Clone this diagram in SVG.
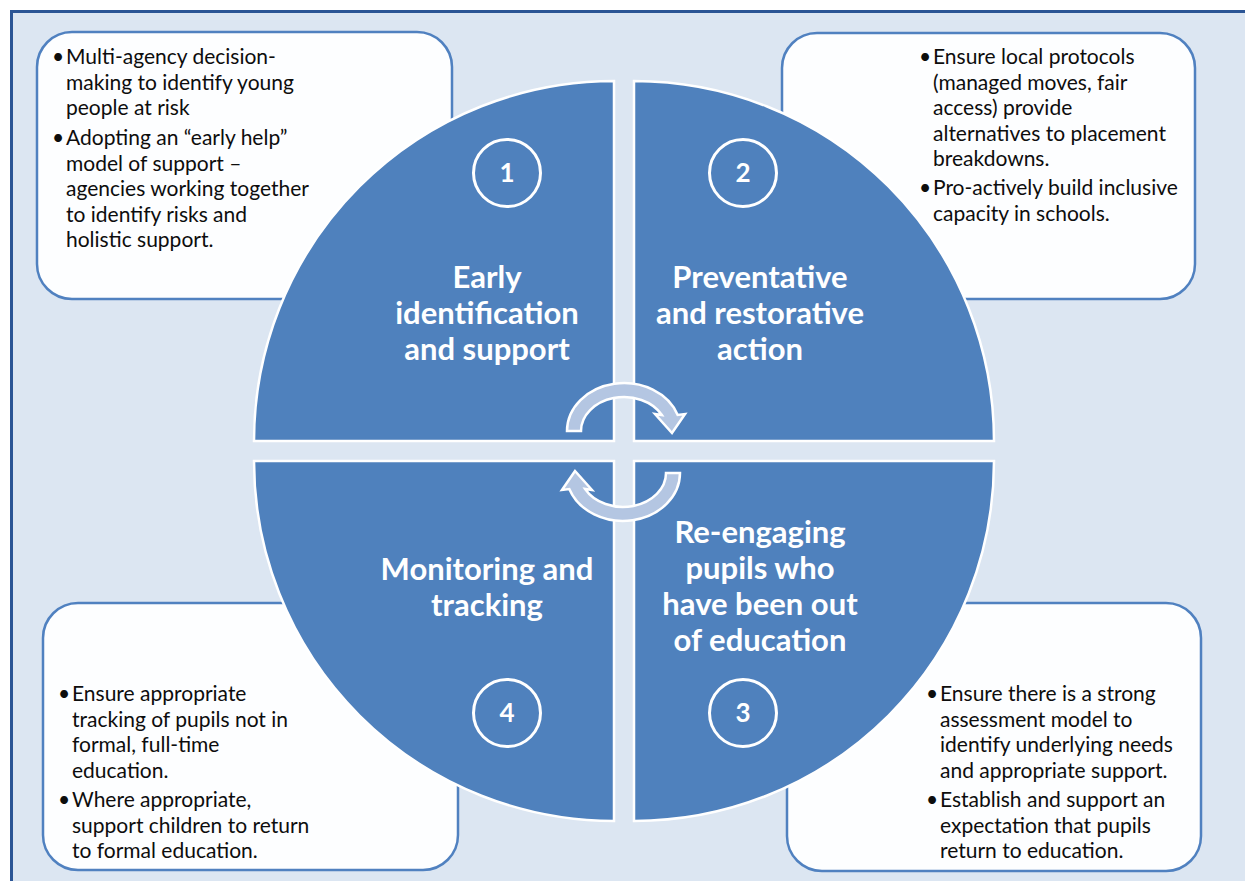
<svg xmlns="http://www.w3.org/2000/svg" width="1245" height="881" viewBox="0 0 1245 881">
<style>
.box{fill:#fdfeff;stroke:#5081c0;stroke-width:2.5}
.q{fill:#4f81bd;stroke:#ffffff;stroke-width:2.5}
.num{fill:none;stroke:#ffffff;stroke-width:3}
.numt{font-family:Lato,"Liberation Sans",sans-serif;font-size:26px;font-weight:bold;fill:#ffffff;text-anchor:middle}
.title{font-family:Lato,"Liberation Sans",sans-serif;font-size:31px;font-weight:bold;fill:#ffffff;text-anchor:middle}
.body{font-family:Lato,"Liberation Sans",sans-serif;font-size:21px;fill:#0d0d0d}
.arr{fill:#b4c6e2;stroke:#ffffff;stroke-width:2.5}
</style>
<rect x="0" y="0" width="1245" height="881" fill="#ffffff"/>
<rect x="11.5" y="11.5" width="1240" height="875" fill="#dce6f2" stroke="#2b5595" stroke-width="3"/>

<g id="box1">
<rect class="box" x="37" y="32" width="415" height="267" rx="35"/>
<text class="body"><tspan x="52" y="64">•</tspan><tspan x="66" y="64">Multi-agency decision-</tspan><tspan x="66" y="89.5">making to identify young</tspan><tspan x="66" y="115">people at risk</tspan><tspan x="52" y="145">•</tspan><tspan x="66" y="145">Adopting an “early help”</tspan><tspan x="66" y="170.5">model of support –</tspan><tspan x="66" y="196">agencies working together</tspan><tspan x="66" y="221.5">to identify risks and</tspan><tspan x="66" y="247">holistic support.</tspan></text>
</g>
<g id="box2">
<rect class="box" x="782" y="33" width="413" height="266" rx="35"/>
<text class="body"><tspan x="919" y="64">•</tspan><tspan x="933" y="64">Ensure local protocols</tspan><tspan x="933" y="89.5">(managed moves, fair</tspan><tspan x="933" y="115">access) provide</tspan><tspan x="933" y="140.5">alternatives to placement</tspan><tspan x="933" y="166">breakdowns.</tspan><tspan x="919" y="195">•</tspan><tspan x="933" y="195">Pro-actively build inclusive</tspan><tspan x="933" y="220.5">capacity in schools.</tspan></text>
</g>
<g id="box4">
<rect class="box" x="43" y="603" width="415" height="267" rx="35"/>
<text class="body"><tspan x="58" y="701">•</tspan><tspan x="72" y="701">Ensure appropriate</tspan><tspan x="72" y="726.5">tracking of pupils not in</tspan><tspan x="72" y="752">formal, full-time</tspan><tspan x="72" y="777.5">education.</tspan><tspan x="58" y="807">•</tspan><tspan x="72" y="807">Where appropriate,</tspan><tspan x="72" y="832.5">support children to return</tspan><tspan x="72" y="858">to formal education.</tspan></text>
</g>
<g id="box3">
<rect class="box" x="787" y="603" width="414" height="268" rx="35"/>
<text class="body"><tspan x="926" y="701">•</tspan><tspan x="940" y="701">Ensure there is a strong</tspan><tspan x="940" y="726.5">assessment model to</tspan><tspan x="940" y="752">identify underlying needs</tspan><tspan x="940" y="777.5">and appropriate support.</tspan><tspan x="926" y="807">•</tspan><tspan x="940" y="807">Establish and support an</tspan><tspan x="940" y="832.5">expectation that pupils</tspan><tspan x="940" y="858">return to education.</tspan></text>
</g>

<g id="q1">
<path class="q" d="M614,441 L254,441 A360,360 0 0 1 614,81 Z"/>
<circle class="num" cx="507" cy="173" r="33.5"/>
<text class="numt" x="507" y="182">1</text>
<text class="title"><tspan x="487" y="288">Early</tspan><tspan x="487" y="324">identification</tspan><tspan x="487" y="360">and support</tspan></text>
</g>
<g id="q2">
<path class="q" d="M634,441 L634,81 A360,360 0 0 1 994,441 Z"/>
<circle class="num" cx="743" cy="173" r="33.5"/>
<text class="numt" x="743" y="182">2</text>
<text class="title"><tspan x="760" y="288">Preventative</tspan><tspan x="760" y="324">and restorative</tspan><tspan x="760" y="360">action</tspan></text>
</g>
<g id="q4">
<path class="q" d="M614,461 L254,461 A360,360 0 0 0 614,821 Z"/>
<circle class="num" cx="507" cy="713" r="33.5"/>
<text class="numt" x="507" y="722">4</text>
<text class="title"><tspan x="487" y="580">Monitoring and</tspan><tspan x="487" y="616">tracking</tspan></text>
</g>
<g id="q3">
<path class="q" d="M634,461 L994,461 A360,360 0 0 1 634,821 Z"/>
<circle class="num" cx="743" cy="713" r="33.5"/>
<text class="numt" x="743" y="722">3</text>
<text class="title"><tspan x="760" y="543">Re-engaging</tspan><tspan x="760" y="579">pupils who</tspan><tspan x="760" y="615">have been out</tspan><tspan x="760" y="651">of education</tspan></text>
</g>

<g id="connectors">
<path class="arr" d="M567,431 A57,48 0 0 1 677.7,415 L685,414 L672,433 L655,414 L661.9,415 A43,34 0 0 0 581,431 Z"/>
<path class="arr" transform="rotate(180 623.5 452)" d="M567,431 A57,48 0 0 1 677.7,415 L685,414 L672,433 L655,414 L661.9,415 A43,34 0 0 0 581,431 Z"/>
</g>
</svg>
